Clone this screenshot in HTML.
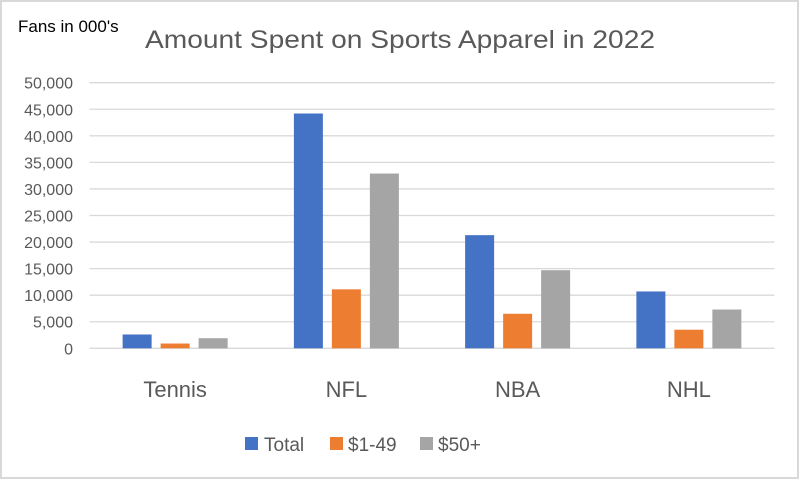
<!DOCTYPE html>
<html><head><meta charset="utf-8"><style>
html,body{margin:0;padding:0;background:#fff;}
svg{display:block;font-family:"Liberation Sans",sans-serif;}
</style></head><body>
<svg id="chart" width="800" height="481" viewBox="0 0 800 481">
<rect x="1" y="1" width="797" height="477" fill="#fff" stroke="#d9d9d9" stroke-width="2"/>
<text x="18" y="32" font-size="17" fill="#000">Fans in 000's</text>
<text x="145" y="48" font-size="25" fill="#595959" textLength="510" lengthAdjust="spacingAndGlyphs">Amount Spent on Sports Apparel in 2022</text>
<g id="grid"></g><g id="bars"></g><g id="xlabels"></g>
<g>
<rect x="245" y="437" width="13" height="13" fill="#4472c4"/>
<text x="264" y="451" font-size="19" fill="#595959">Total</text>
<rect x="330" y="437" width="13" height="13" fill="#ed7d31"/>
<text x="348" y="451" font-size="19" fill="#595959">$1-49</text>
<rect x="420" y="437" width="13" height="13" fill="#a5a5a5"/>
<text x="438" y="451" font-size="19" fill="#595959">$50+</text>
</g>
</svg>
<script>
const categories = ["Tennis", "NFL", "NBA", "NHL"];
const totalValues = [2600, 44200, 21300, 10700];
const lowValues = [900, 11100, 6500, 3500];
const highValues = [1900, 32900, 14700, 7300];
const yTicks = [0, 5000, 10000, 15000, 20000, 25000, 30000, 35000, 40000, 45000, 50000];
const seriesNames = ["total", "1-49", "50-plus"];

const NS = "http://www.w3.org/2000/svg";
const left = 89.5, right = 774.5, y0 = 348.3, yTop = 82.7, yMax = 50000;
function yScale(v){ return y0 - (v / yMax) * (y0 - yTop); }
const band = (right - left) / categories.length;
function xCenter(i){ return left + band * (i + 0.5); }

const grid = document.getElementById('grid');
yTicks.forEach(t => {
  const l = document.createElementNS(NS, 'line');
  l.setAttribute('x1', left); l.setAttribute('x2', right);
  l.setAttribute('y1', yScale(t)); l.setAttribute('y2', yScale(t));
  l.setAttribute('stroke', '#d9d9d9'); l.setAttribute('stroke-width', '1.3');
  
  
  grid.appendChild(l);
  const tx = document.createElementNS(NS, 'text');
  tx.setAttribute('x', 73); tx.setAttribute('y', yScale(t) + 6);
  tx.setAttribute('text-anchor', 'end'); tx.setAttribute('font-size', '16');
  tx.setAttribute('fill', '#595959');
  tx.textContent = t.toLocaleString('en-US');
  
  
  grid.appendChild(tx);
});

const bars = document.getElementById('bars');
const series = [totalValues, lowValues, highValues];
const colors = ["#4472c4", "#ed7d31", "#a5a5a5"];
const barW = 29, step = 38;
categories.forEach((c, i) => {
  series.forEach((s, j) => {
    const r = document.createElementNS(NS, 'rect');
    const cx = xCenter(i) + (j - 1) * step;
    r.setAttribute('x', cx - barW / 2);
    r.setAttribute('y', yScale(s[i]));
    r.setAttribute('width', barW);
    r.setAttribute('height', y0 - yScale(s[i]));
    r.setAttribute('fill', colors[j]);
    
    
    bars.appendChild(r);
  });
  const tx = document.createElementNS(NS, 'text');
  tx.setAttribute('x', xCenter(i)); tx.setAttribute('y', 397);
  tx.setAttribute('text-anchor', 'middle'); tx.setAttribute('font-size', '22');
  tx.setAttribute('fill', '#595959');
  tx.textContent = c;
  
  
  document.getElementById('xlabels').appendChild(tx);
});
</script>
</body></html>
